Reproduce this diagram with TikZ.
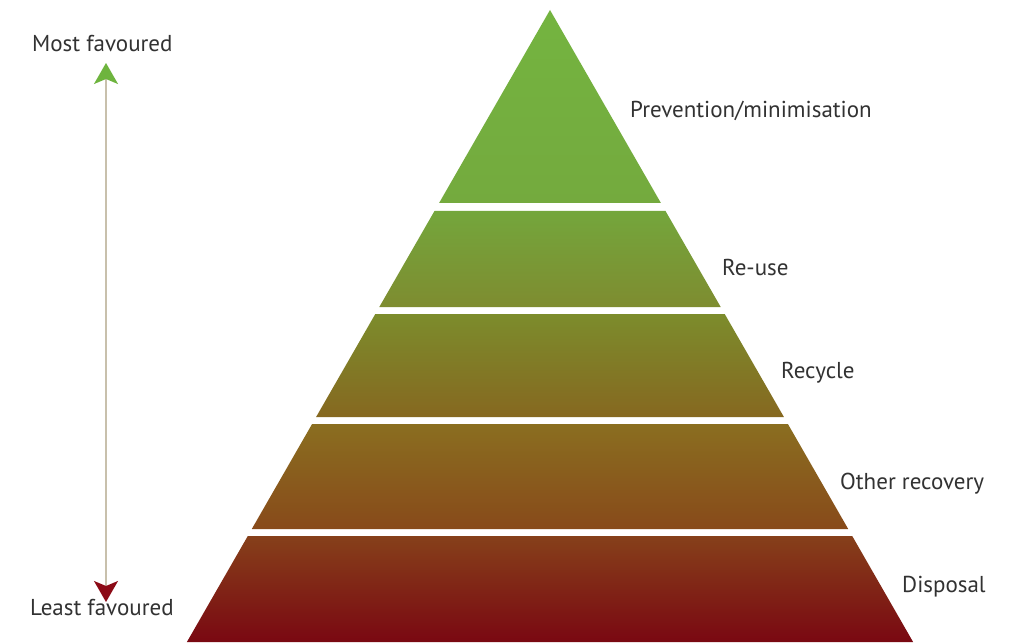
\documentclass[tikz,border=0pt]{standalone}
\usepackage{fontspec}
\newfontfamily\labfont{PT Sans}
\usetikzlibrary{arrows.meta}
\definecolor{txt}{RGB}{50,50,50}
\definecolor{bAt}{RGB}{116,180,64}\definecolor{bAb}{RGB}{116,170,62}
\definecolor{bBt}{RGB}{116,166,60}\definecolor{bBb}{RGB}{126,140,48}
\definecolor{bCt}{RGB}{124,140,44}\definecolor{bCb}{RGB}{134,104,32}
\definecolor{bDt}{RGB}{138,110,32}\definecolor{bDb}{RGB}{136,74,26}
\definecolor{bEt}{RGB}{134,64,26}\definecolor{bEb}{RGB}{122,8,18}
\definecolor{tipgreen}{RGB}{110,180,62}
\definecolor{tipred}{RGB}{140,10,22}
\definecolor{shaft}{RGB}{200,192,172}
\tikzset{
  lab/.style={font=\labfont\fontsize{23}{27}\selectfont, text=txt, inner sep=0pt, anchor=base west},
  band/.style 2 args={top color=#1, bottom color=#2, draw=none},
}
\begin{document}
\begin{tikzpicture}[x=1pt,y=-1pt]
\useasboundingbox (0,0) rectangle (1017,644);
\fill[white] (0,0) rectangle (1017,644);
% pyramid bands
\shade[band={bAt}{bAb}] (550,10) -- (660.9,203) -- (439.1,203) -- cycle;
\shade[band={bBt}{bBb}] (434.5,211) -- (665.5,211) -- (720.7,307) -- (379.3,307) -- cycle;
\shade[band={bCt}{bCb}] (375.3,314) -- (724.7,314) -- (783.9,417) -- (316.1,417) -- cycle;
\shade[band={bDt}{bDb}] (312.1,424) -- (787.9,424) -- (848.2,529) -- (251.8,529) -- cycle;
\shade[band={bEt}{bEb}] (247.8,536) -- (852.2,536) -- (913.1,642) -- (186.9,642) -- cycle;
% labels
\node[lab] (prev) at (630,118) {Prevention/minimisation};
\node[lab] (reuse) at (722,276) {Re-use};
\node[lab] (recyc) at (781,378) {Recycle};
\node[lab] (other) at (840,489) {Other recovery};
\node[lab] (disp) at (902,592) {Disposal};
\node[lab] (most) at (32,52) {Most favoured};
\node[lab] (least) at (30,615) {Least favoured};
% arrow
\coordinate (atop) at (106,63);
\coordinate (abot) at (106,602);
\draw[shaft, line width=1.4pt,
  {Stealth[length=21pt,width=24pt,inset=5pt,color=tipred]}-{Stealth[length=21pt,width=24pt,inset=5pt,color=tipgreen]}]
  (abot) -- (atop);
\end{tikzpicture}
\end{document}
